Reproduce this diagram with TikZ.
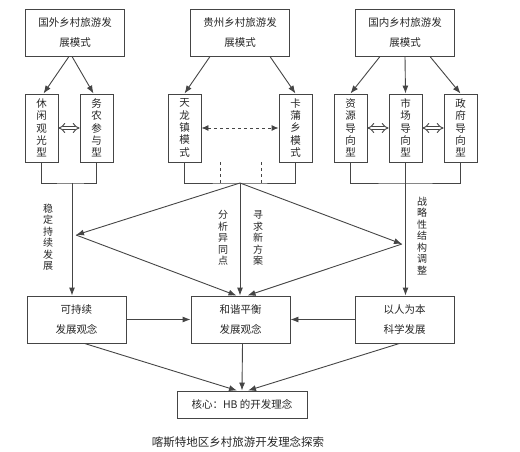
\documentclass[tikz,border=0pt]{standalone}
\usepackage{fontspec}
\newfontfamily\cjk{Noto Sans CJK SC}
\usetikzlibrary{arrows.meta,positioning,calc}
\definecolor{xian}{HTML}{454545}
\tikzset{
  kuang/.style={draw=xian,line width=0.9pt,minimum width=99pt,minimum height=47pt,
    inner sep=1pt,align=center,font=\cjk\fontsize{10.5}{19.5}\selectfont},
  shu/.style={draw=xian,line width=0.9pt,minimum width=33pt,minimum height=68pt,
    inner sep=1pt,align=center,font=\cjk\fontsize{10.5}{12.3}\selectfont},
  zi/.style={align=center,inner sep=0pt,font=\cjk\fontsize{10}{11.5}\selectfont},
  jian/.style={-{Latex[length=8pt,width=6pt]}},
  shuang/.style={double=white,double distance=2.6pt,{Implies}-{Implies},line width=0.9pt},
  xu/.style={dashed,line width=0.9pt},
}
\begin{document}
\begin{tikzpicture}[x=1pt,y=-1pt,line width=0.9pt,draw=xian,color=xian,text=black!85]
  \useasboundingbox (0,0) rectangle (520,452);
  % top row
  \node[kuang] (gw) at (75,32.5) {国外乡村旅游发\\展模式};
  \node[kuang] (gz) at (240,32.5) {贵州乡村旅游发\\展模式};
  \node[kuang] (gn) at (405,32.5) {国内乡村旅游发\\展模式};
  % second row
  \node[shu] (xx) at (41.5,128) {休\\闲\\观\\光\\型};
  \node[shu] (wn) at (96.5,128) {务\\农\\参\\与\\型};
  \node[shu] (tl) at (184.5,128) {天\\龙\\镇\\模\\式};
  \node[shu] (kp) at (295.5,128) {卡\\蒲\\乡\\模\\式};
  \node[shu] (zy) at (350.5,128) {资\\源\\导\\向\\型};
  \node[shu] (sc) at (405.5,128) {市\\场\\导\\向\\型};
  \node[shu] (zf) at (460.5,128) {政\\府\\导\\向\\型};
  % third row
  \node[kuang] (kc) at (76.5,319.5) {可持续\\发展观念};
  \node[kuang] (hx) at (240.5,319.5) {和谐平衡\\发展观念};
  \node[kuang] (yr) at (404.5,319.5) {以人为本\\科学发展};
  \node[draw=xian,line width=0.9pt,minimum width=130pt,minimum height=27pt,inner sep=1pt,
    font=\cjk\fontsize{10.5}{12}\selectfont] (hb) at (242,404.5) {核心：HB 的开发理念};
  \node[font=\cjk\fontsize{11.5}{13}\selectfont,text=black!85] (bt) at (238,442)
    {喀斯特地区乡村旅游开发理念探索};
  % junctions
  \coordinate (ja) at (72,183);
  \coordinate (jb) at (240,183);
  \coordinate (jc) at (405.5,183);
  \coordinate (pl) at (76,235);
  \coordinate (pr) at (402,244);
  % top to second row
  \draw[jian] ([xshift=-6pt]gw.south) -- ([xshift=2pt]xx.north);
  \draw[jian] ([xshift=-3pt]gw.south) -- ([xshift=-3pt]wn.north);
  \draw[jian] (gz.south west) ++(20,0) -- (tl.north);
  \draw[jian] (gz.south east) ++(-20,0) -- (kp.north);
  \draw[jian] (gn.south west) ++(25,0) -- (zy.north);
  \draw[jian] (gn.south) -- (sc.north);
  \draw[jian] (gn.south east) ++(-25,0) -- (zf.north);
  \draw[shuang] (xx) -- (wn);
  \draw[shuang] (zy) -- (sc);
  \draw[shuang] (sc) -- (zf);
  \draw[xu,{Latex[length=7pt,width=6pt]}-{Latex[length=7pt,width=6pt]}] (tl) -- (kp);
  % collecting lines
  \draw (xx.south) |- (ja) -| (wn.south);
  \draw (tl.south) |- (jb) -| (kp.south);
  \draw (zy.south) |- (jc) -| (zf.south);
  \draw[xu] (220,162) -- (220,183);
  \draw[xu] (261,162) -- (261,183);
  \draw[jian] (ja) -- (ja |- kc.north);
  \draw[jian] (jb) -- (jb |- hx.north);
  \draw[jian] (sc.south) -- (sc.south |- yr.north);
  \draw[jian] (jb) -- (pl);
  \draw[jian] (jb) -- (pr);
  \draw[jian] (pl) -- ([xshift=-4pt]hx.north);
  \draw[jian] (pr) -- ([xshift=7pt]hx.north);
  % labels
  \node[zi] (l1) at (48,237) {稳\\定\\持\\续\\发\\展};
  \node[zi] (l2) at (223,238) {分\\析\\异\\同\\点};
  \node[zi] (l3) at (258,238) {寻\\求\\新\\方\\案};
  \node[zi] (l4) at (422,236) {战\\略\\性\\结\\构\\调\\整};
  % third row to core
  \draw[jian] (kc) -- (hx);
  \draw[jian] (yr) -- (hx);
  \draw[jian] ([xshift=8pt]kc.south) -- ([xshift=-5pt]hb.north);
  \draw[jian] ([xshift=2pt]hx.south) -- (hb.north);
  \draw[jian] ([xshift=-5pt]yr.south) -- ([xshift=6pt]hb.north);
\end{tikzpicture}
\end{document}
